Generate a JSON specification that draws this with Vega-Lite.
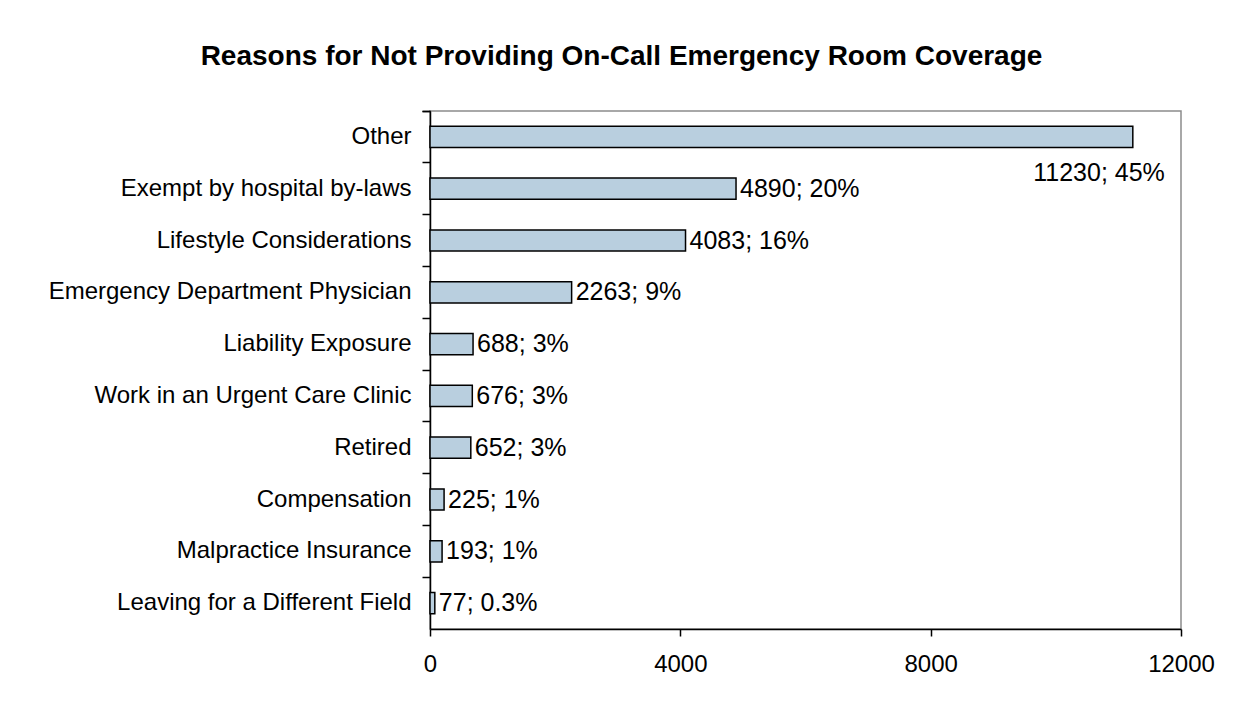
{
  "$schema": "https://vega.github.io/schema/vega-lite/v6.json",
  "width": 751,
  "height": 518,
  "autosize": {"type": "none"},
  "padding": {"left": 430, "top": 111, "right": 54, "bottom": 73},
  "background": "white",
  "title": {
    "text": "Reasons for Not Providing On-Call Emergency Room Coverage",
    "font": "Liberation Sans",
    "fontSize": 28,
    "fontWeight": "bold",
    "color": "black",
    "anchor": "middle",
    "dx": -184,
    "offset": 28
  },
  "config": {
    "view": {"stroke": "#8c8c8c", "strokeWidth": 1.5},
    "font": "Liberation Sans"
  },
  "data": {
    "values": [
      {"reason": "Other", "count": 11230, "label": "11230; 45%"},
      {"reason": "Exempt by hospital by-laws", "count": 4890, "label": "4890; 20%"},
      {"reason": "Lifestyle Considerations", "count": 4083, "label": "4083; 16%"},
      {"reason": "Emergency Department Physician", "count": 2263, "label": "2263; 9%"},
      {"reason": "Liability Exposure", "count": 688, "label": "688; 3%"},
      {"reason": "Work in an Urgent Care Clinic", "count": 676, "label": "676; 3%"},
      {"reason": "Retired", "count": 652, "label": "652; 3%"},
      {"reason": "Compensation", "count": 225, "label": "225; 1%"},
      {"reason": "Malpractice Insurance", "count": 193, "label": "193; 1%"},
      {"reason": "Leaving for a Different Field", "count": 77, "label": "77; 0.3%"}
    ]
  },
  "encoding": {
    "y": {
      "field": "reason",
      "type": "nominal",
      "sort": null,
      "title": null,
      "scale": {"paddingInner": 0, "paddingOuter": 0},
      "axis": {
        "bandPosition": 0,
        "labelFont": "Liberation Sans",
        "labelFontSize": 24,
        "labelColor": "black",
        "labelPadding": 11,
        "labelLimit": 500,
        "tickSize": 8,
        "tickColor": "black",
        "tickWidth": 1.5,
        "domainColor": "black",
        "domainWidth": 1.5,
        "tickExtra": true
      }
    },
    "x": {
      "field": "count",
      "type": "quantitative",
      "title": null,
      "scale": {"domain": [0, 12000], "nice": false},
      "axis": {
        "values": [0, 4000, 8000, 12000],
        "format": "d",
        "grid": false,
        "labelFont": "Liberation Sans",
        "labelFontSize": 24,
        "labelColor": "black",
        "labelPadding": 16,
        "tickSize": 7,
        "tickColor": "black",
        "tickWidth": 1.5,
        "domainColor": "black",
        "domainWidth": 1.5,
        "labelFlush": false
      }
    }
  },
  "layer": [
    {
      "mark": {"type": "bar", "height": {"band": 0.41}, "fill": "#B9CFDF", "stroke": "black", "strokeWidth": 1.5}
    },
    {
      "transform": [{"filter": "datum.count < 10000"}],
      "mark": {"type": "text", "align": "left", "baseline": "middle", "dx": 4, "fontSize": 25, "font": "Liberation Sans", "color": "black"},
      "encoding": {"text": {"field": "label"}}
    },
    {
      "transform": [{"filter": "datum.count >= 10000"}],
      "mark": {"type": "text", "align": "right", "baseline": "middle", "dx": 32, "dy": 36, "fontSize": 25, "font": "Liberation Sans", "color": "black"},
      "encoding": {"text": {"field": "label"}}
    }
  ]
}
